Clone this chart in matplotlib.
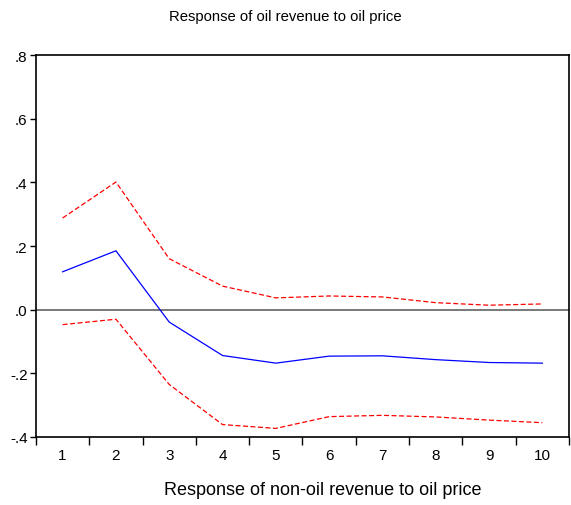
import matplotlib
matplotlib.use("Agg")
import matplotlib.pyplot as plt

plt.rcParams["font.family"] = ["Liberation Sans", "DejaVu Sans"]

# impulse response periods and values
periods = [1, 2, 3, 4, 5, 6, 7, 8, 9, 10]
response = [0.119, 0.185, -0.039, -0.144, -0.168, -0.146, -0.145, -0.157, -0.166, -0.168]
upper_band = [0.288, 0.401, 0.160, 0.074, 0.037, 0.043, 0.040, 0.022, 0.014, 0.018]
lower_band = [-0.047, -0.030, -0.235, -0.361, -0.373, -0.336, -0.332, -0.337, -0.347, -0.355]

y_ticks = [-0.4, -0.2, 0.0, 0.2, 0.4, 0.6, 0.8]
y_tick_labels = ["-.4", "-.2", ".0", ".2", ".4", ".6", ".8"]

title = "Response of oil revenue to oil price"
x_label = "Response of non-oil revenue to oil price"

fig = plt.figure(figsize=(5.71, 5.06), dpi=100)
ax = fig.add_axes([0.063, 0.1344, 0.9335, 0.7549])

ax.axhline(0, color="#555555", lw=1.1, zorder=1)
ax.plot(periods, upper_band, color="red", lw=0.9, ls=(0, (4, 2)))
ax.plot(periods, lower_band, color="red", lw=0.9, ls=(0, (4, 2)))
ax.plot(periods, response, color="blue", lw=0.9)

ax.set_xlim(0.5, 10.5)
ax.set_ylim(-0.4, 0.8)

# x ticks sit between periods, labels centered on periods
ax.set_xticks([p + 0.5 for p in [0] + periods])
ax.set_xticklabels([])
ax.set_xticks(periods, minor=True)
ax.set_xticklabels([str(p) for p in periods], minor=True)
ax.tick_params(axis="x", which="major", direction="out", length=6, width=1)
ax.tick_params(axis="x", which="minor", length=0, pad=8, labelsize=11)

ax.set_yticks(y_ticks)
ax.set_yticklabels(y_tick_labels)
ax.tick_params(axis="y", direction="out", length=4, width=1, labelsize=11, pad=2)

for s in ax.spines.values():
    s.set_linewidth(1.2)

fig.text(0.4996, 0.966, title, ha="center", va="center", fontsize=10.7)
fig.text(0.566, 0.031, x_label, ha="center", va="center", fontsize=13)

fig.savefig("out.png", dpi=100)
